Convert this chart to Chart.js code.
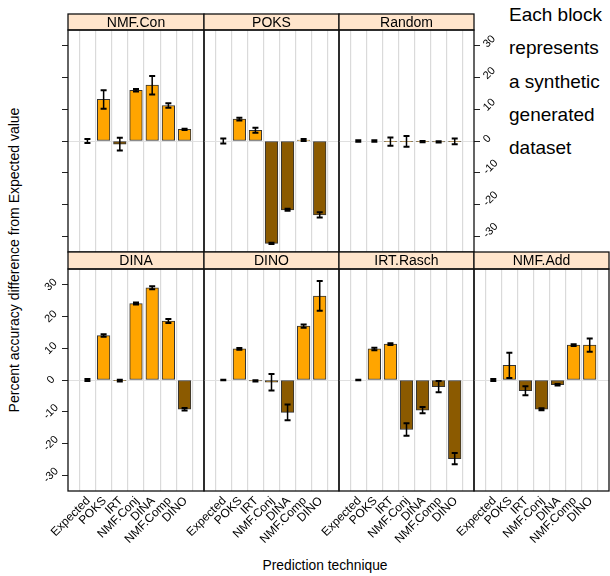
<!DOCTYPE html>
<html>
<head>
<meta charset="utf-8">
<script src="https://cdn.jsdelivr.net/npm/chart.js@4.4.1/dist/chart.umd.min.js"></script>
<style>
  body { margin: 0; background: #fff; overflow: hidden; }
  #wrap { position: relative; width: 610px; height: 576px; font-family: "Liberation Sans", Arial, sans-serif; color: #000; }
  #wrap canvas { position: absolute; left: 0; top: 0; }
  .note { position: absolute; left: 509px; top: -2px; font-size: 19px; line-height: 33.3px; }
  .ytitle { position: absolute; left: 14px; top: 260px; font-size: 14px; white-space: nowrap;
            transform: translate(-50%, -50%) rotate(-90deg); }
  .xtitle { position: absolute; left: 325px; top: 565px; font-size: 13.8px; white-space: nowrap;
            transform: translate(-50%, -50%); }
</style>
</head>
<body>
<div id="wrap">
  <div class="note">Each block<br>represents<br>a synthetic<br>generated<br>dataset</div>
  <div class="ytitle">Percent accuracy difference from Expected value</div>
  <div class="xtitle">Prediction technique</div>
</div>
<script>
Chart.defaults.font.family = '"Liberation Sans", Arial, sans-serif';
Chart.defaults.color = '#000';

// categories on the x axis of every panel
const categories = ['Expected', 'POKS', 'IRT', 'NMF.Conj', 'DINA', 'NMF.Comp', 'DINO'];
const panelNames = ['NMF.Con', 'POKS', 'Random', 'DINA', 'DINO', 'IRT.Rasch', 'NMF.Add'];
const yTickValues = [-30, -20, -10, 0, 10, 20, 30];

// mean difference and error half-width per panel
const nmfConMean   = [0, 13.1, -1.0, 16.0, 17.6, 11.2, 3.7];
const nmfConErr    = [0.6, 2.9, 2.0, 0.4, 2.9, 0.7, 0.2];
const poksMean     = [0, 6.9, 3.4, -32.3, -21.7, 0.3, -23.3];
const poksErr      = [0.8, 0.4, 0.8, 0.2, 0.3, 0.3, 0.8];
const randomMean   = [0, 0, -0.2, -0.1, -0.2, -0.3, -0.1];
const randomErr    = [0.2, 0.2, 1.3, 1.7, 0.2, 0.2, 0.9];
const dinaMean     = [0, 14.0, -0.2, 24.1, 29.1, 18.6, -9.2];
const dinaErr      = [0.3, 0.4, 0.3, 0.3, 0.5, 0.6, 0.4];
const dinoMean     = [0, 9.8, -0.3, -0.7, -10.2, 17.0, 26.5];
const dinoErr      = [0.1, 0.3, 0.2, 2.6, 2.5, 0.5, 4.7];
const irtRaschMean = [0, 9.8, 11.3, -15.6, -9.5, -2.1, -24.8];
const irtRaschErr  = [0.1, 0.4, 0.3, 2.0, 1.0, 1.8, 1.8];
const nmfAddMean   = [0, 4.6, -3.4, -9.2, -1.5, 11.0, 11.0];
const nmfAddErr    = [0.3, 4.0, 1.4, 0.3, 0.2, 0.3, 2.1];

const panelMeans = [nmfConMean, poksMean, randomMean, dinaMean, dinoMean, irtRaschMean, nmfAddMean];
const panelErrs  = [nmfConErr, poksErr, randomErr, dinaErr, dinoErr, irtRaschErr, nmfAddErr];

// lattice layout
const colX = [68, 204, 339, 474, 609];
const rows = [
  { stripTop: 14, top: 30, bottom: 252 },
  { stripTop: 252, top: 269, bottom: 491 }
];
const panelCells = [[0, 0], [0, 1], [0, 2], [1, 0], [1, 1], [1, 2], [1, 3]];
const yAxisMode = ['left-ticks', 'none', 'right-labels', 'left-labels', 'none', 'none', 'none'];

const posColor = '#FFA500';
const negColor = '#8B5A00';
const labelFont = '"Liberation Sans", Arial, sans-serif';

const errorBarPlugin = {
  id: 'errorBars',
  afterDatasetsDraw(chart) {
    const { ctx } = chart;
    const x = chart.scales.x, y = chart.scales.y;
    ctx.save();
    ctx.strokeStyle = '#000';
    chart.data.datasets[0].data.forEach(d => {
      const px = x.getPixelForValue(d.x);
      const y1 = y.getPixelForValue(d.y - d.err);
      const y2 = y.getPixelForValue(d.y + d.err);
      ctx.lineWidth = 1.5;
      ctx.beginPath();
      ctx.moveTo(px, y1); ctx.lineTo(px, y2);
      ctx.stroke();
      ctx.lineWidth = 2;
      ctx.beginPath();
      ctx.moveTo(px - 3, y1); ctx.lineTo(px + 3, y1);
      ctx.moveTo(px - 3, y2); ctx.lineTo(px + 3, y2);
      ctx.stroke();
    });
    ctx.restore();
  }
};

// strip, frame and the 45-degree tick labels (placed with the chart's scales)
const panelFramePlugin = {
  id: 'panelFrame',
  afterDraw(chart, args, opts) {
    const { ctx, chartArea: a } = chart;
    const x = chart.scales.x, y = chart.scales.y;
    ctx.save();
    ctx.fillStyle = '#FFE5CC';
    ctx.fillRect(a.left, opts.stripTop, a.right - a.left, a.top - opts.stripTop);
    ctx.strokeStyle = '#111';
    ctx.lineWidth = 1.3;
    ctx.strokeRect(a.left, opts.stripTop, a.right - a.left, a.top - opts.stripTop);
    ctx.strokeRect(a.left, a.top, a.right - a.left, a.bottom - a.top);
    ctx.fillStyle = '#000';
    ctx.font = '14px ' + labelFont;
    ctx.textAlign = 'center';
    ctx.textBaseline = 'middle';
    ctx.fillText(opts.name, (a.left + a.right) / 2, (opts.stripTop + a.top) / 2 + 1);

    if (opts.yLabels) {
      ctx.font = '11px ' + labelFont;
      y.ticks.forEach(t => {
        const py = y.getPixelForValue(t.value);
        ctx.save();
        if (opts.yLabels === 'left') {
          ctx.translate(a.left - 17, py);
          ctx.textAlign = 'center';
        } else {
          ctx.translate(a.right + 11, py);
          ctx.textAlign = 'left';
        }
        ctx.rotate(-Math.PI / 4);
        ctx.fillText(String(t.value), 0, 0);
        ctx.restore();
      });
    }

    if (opts.xLabels) {
      ctx.font = '12px ' + labelFont;
      ctx.textAlign = 'right';
      x.ticks.forEach(t => {
        const px = x.getPixelForValue(t.value);
        ctx.save();
        ctx.translate(px + 1, a.bottom + 8);
        ctx.rotate(-Math.PI / 4);
        ctx.fillText(categories[t.value - 1], 0, 0);
        ctx.restore();
      });
    }
    ctx.restore();
  }
};

function makePanel(idx) {
  const [r, c] = panelCells[idx];
  const row = rows[r];
  const left = colX[c], right = colX[c + 1];
  const mode = yAxisMode[idx];
  const yPos = mode.indexOf('right') === 0 ? 'right' : 'left';
  const yW = mode === 'none' ? 0 : 6;
  const means = panelMeans[idx], errs = panelErrs[idx];

  const canvas = document.createElement('canvas');
  canvas.width = 610; canvas.height = 576;
  document.getElementById('wrap').appendChild(canvas);

  new Chart(canvas.getContext('2d'), {
    type: 'bar',
    data: {
      datasets: [{
        data: means.map((v, i) => ({ x: i + 1, y: v, err: errs[i] })),
        backgroundColor: means.map(v => v < 0 ? negColor : posColor),
        borderColor: '#333',
        borderWidth: 1,
        borderSkipped: false,
        barThickness: 12.6
      }]
    },
    options: {
      responsive: false,
      animation: false,
      devicePixelRatio: 1,
      layout: {
        padding: {
          top: row.top,
          bottom: 576 - row.bottom,
          left: yPos === 'left' ? left - yW : left,
          right: yPos === 'right' ? 610 - right - yW : 610 - right
        }
      },
      plugins: {
        legend: { display: false },
        tooltip: { enabled: false },
        panelFrame: {
          name: panelNames[idx], stripTop: row.stripTop,
          yLabels: mode.endsWith('labels') ? yPos : null,
          xLabels: r === 1
        }
      },
      scales: {
        x: {
          type: 'linear', min: 0.4, max: 7.6,
          afterBuildTicks: s => { s.ticks = categories.map((_, i) => ({ value: i + 1 })); },
          afterFit: s => { s.height = 0; },
          grid: { color: '#dadada', lineWidth: 1.2, drawTicks: false },
          border: { display: false },
          ticks: { display: false }
        },
        y: {
          type: 'linear', position: yPos, min: -35, max: 35,
          afterBuildTicks: s => { s.ticks = yTickValues.map(v => ({ value: v })); },
          afterFit: s => { s.width = yW; },
          grid: {
            color: ctx => (ctx.tick && ctx.tick.value === 0) ? '#e0e0e0' : 'rgba(0,0,0,0)',
            tickColor: '#222', tickLength: 6, drawTicks: mode !== 'none'
          },
          border: { display: false },
          ticks: { display: false }
        }
      }
    },
    plugins: [errorBarPlugin, panelFramePlugin]
  });
}

panelNames.forEach((_, i) => makePanel(i));
</script>
</body>
</html>
